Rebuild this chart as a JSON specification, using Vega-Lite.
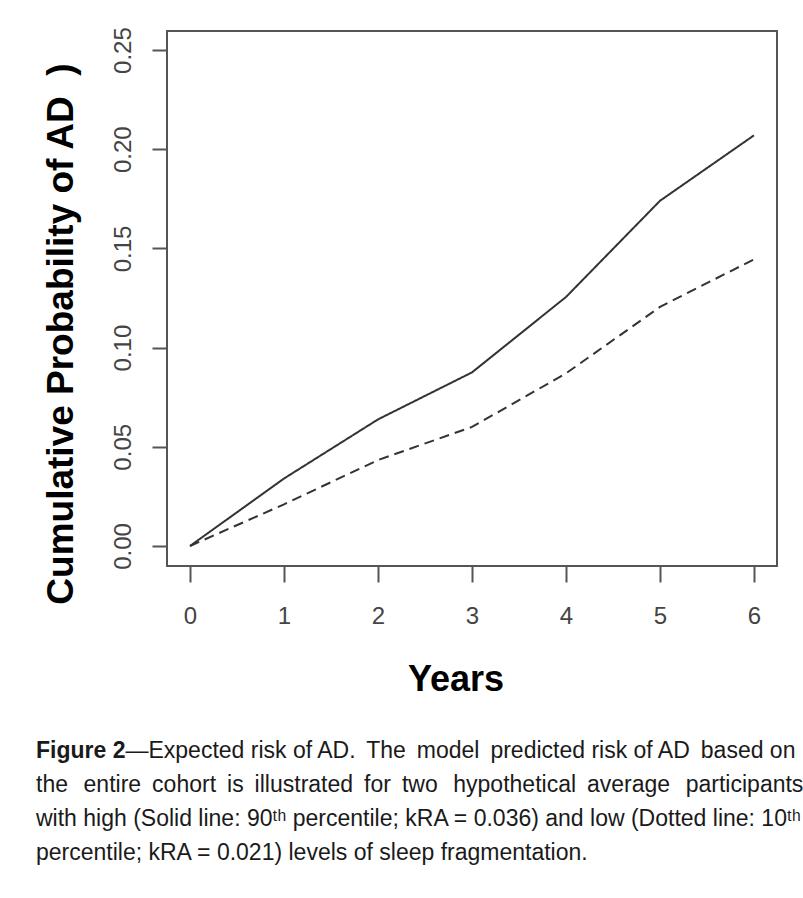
{
  "$schema": "https://vega.github.io/schema/vega-lite/v6.json",
  "autosize": {"type": "none"},
  "width": 610,
  "height": 535,
  "padding": {"left": 167, "top": 31, "right": 26, "bottom": 332},
  "background": "white",
  "config": {
    "view": {"stroke": "#555555", "strokeWidth": 2},
    "font": "Liberation Sans"
  },
  "title": {
    "text": "Figure 2",
    "subtitle": [
      "\u200b\u00a0\u00a0\u00a0\u00a0\u00a0\u00a0\u00a0\u00a0\u00a0\u00a0\u00a0\u00a0\u00a0\u00a0—Expected risk of AD.\u2009 The\u2009 model\u2009 predicted risk of AD\u2009 based on",
      "the\u2009\u2009 entire\u2009 cohort\u2009 is\u2009 illustrated\u2009 for\u2009 two\u2009\u2009 hypothetical\u2009 average\u2009\u2009 participants",
      "with high (Solid line: 90ᵗʰ percentile; kRA = 0.036) and low (Dotted line: 10ᵗʰ",
      "percentile; kRA = 0.021) levels of sleep fragmentation."
    ],
    "orient": "bottom",
    "anchor": "start",
    "frame": "group",
    "align": "left",
    "baseline": "top",
    "dx": -131,
    "offset": 43,
    "font": "Liberation Sans",
    "fontSize": 23,
    "fontWeight": "bold",
    "color": "#1a1a1a",
    "subtitleFont": "Liberation Sans",
    "subtitleFontSize": 23,
    "subtitleFontWeight": "normal",
    "subtitleColor": "#1a1a1a",
    "subtitleLineHeight": 34,
    "subtitlePadding": -23
  },
  "data": {
    "values": [
      {"year": 0, "p": 0.0, "series": "High (90th percentile)"},
      {"year": 1, "p": 0.034, "series": "High (90th percentile)"},
      {"year": 2, "p": 0.0638, "series": "High (90th percentile)"},
      {"year": 3, "p": 0.0875, "series": "High (90th percentile)"},
      {"year": 4, "p": 0.1255, "series": "High (90th percentile)"},
      {"year": 5, "p": 0.174, "series": "High (90th percentile)"},
      {"year": 6, "p": 0.207, "series": "High (90th percentile)"},
      {"year": 0, "p": 0.0, "series": "Low (10th percentile)"},
      {"year": 1, "p": 0.021, "series": "Low (10th percentile)"},
      {"year": 2, "p": 0.0433, "series": "Low (10th percentile)"},
      {"year": 3, "p": 0.06, "series": "Low (10th percentile)"},
      {"year": 4, "p": 0.087, "series": "Low (10th percentile)"},
      {"year": 5, "p": 0.1205, "series": "Low (10th percentile)"},
      {"year": 6, "p": 0.1445, "series": "Low (10th percentile)"}
    ]
  },
  "mark": {"type": "line", "strokeWidth": 2, "color": "#333333"},
  "encoding": {
    "x": {
      "field": "year",
      "type": "quantitative",
      "scale": {"domain": [-0.245, 6.245], "nice": false, "zero": false},
      "axis": {
        "values": [0, 1, 2, 3, 4, 5, 6],
        "format": "d",
        "domain": false,
        "grid": false,
        "tickSize": 16,
        "tickWidth": 2,
        "tickColor": "#555555",
        "labelFont": "Liberation Sans",
        "labelFontSize": 24,
        "labelColor": "#444444",
        "labelBaseline": "alphabetic",
        "labelPadding": 41,
        "labelFlush": false,
        "title": "Years",
        "titleFont": "Liberation Sans",
        "titleFontSize": 36,
        "titleFontWeight": "bold",
        "titleColor": "#000000",
        "titleAngle": 0,
        "titleAlign": "center",
        "titleBaseline": "alphabetic",
        "titleX": 288.5,
        "titleY": 124
      }
    },
    "y": {
      "field": "p",
      "type": "quantitative",
      "scale": {"domain": [-0.0101, 0.2596], "nice": false, "zero": false},
      "axis": {
        "values": [0, 0.05, 0.1, 0.15, 0.2, 0.25],
        "format": ".2f",
        "domain": false,
        "grid": false,
        "tickSize": 15,
        "tickWidth": 2,
        "tickColor": "#555555",
        "labelFont": "Liberation Sans",
        "labelFontSize": 24,
        "labelColor": "#444444",
        "labelAngle": 270,
        "labelAlign": "center",
        "labelBaseline": "alphabetic",
        "labelPadding": 22,
        "labelFlush": false,
        "title": "Cumulative Probability of AD\u00a0\u00a0)",
        "titleFont": "Liberation Sans",
        "titleFontSize": 37,
        "titleFontWeight": "bold",
        "titleColor": "#000000",
        "titleAngle": 270,
        "titleAlign": "center",
        "titleBaseline": "alphabetic",
        "titleX": -95,
        "titleY": 302.5
      }
    },
    "strokeDash": {
      "field": "series",
      "type": "nominal",
      "scale": {"domain": ["High (90th percentile)", "Low (10th percentile)"], "range": [[1, 0], [10, 6]]},
      "legend": null
    }
  }
}
